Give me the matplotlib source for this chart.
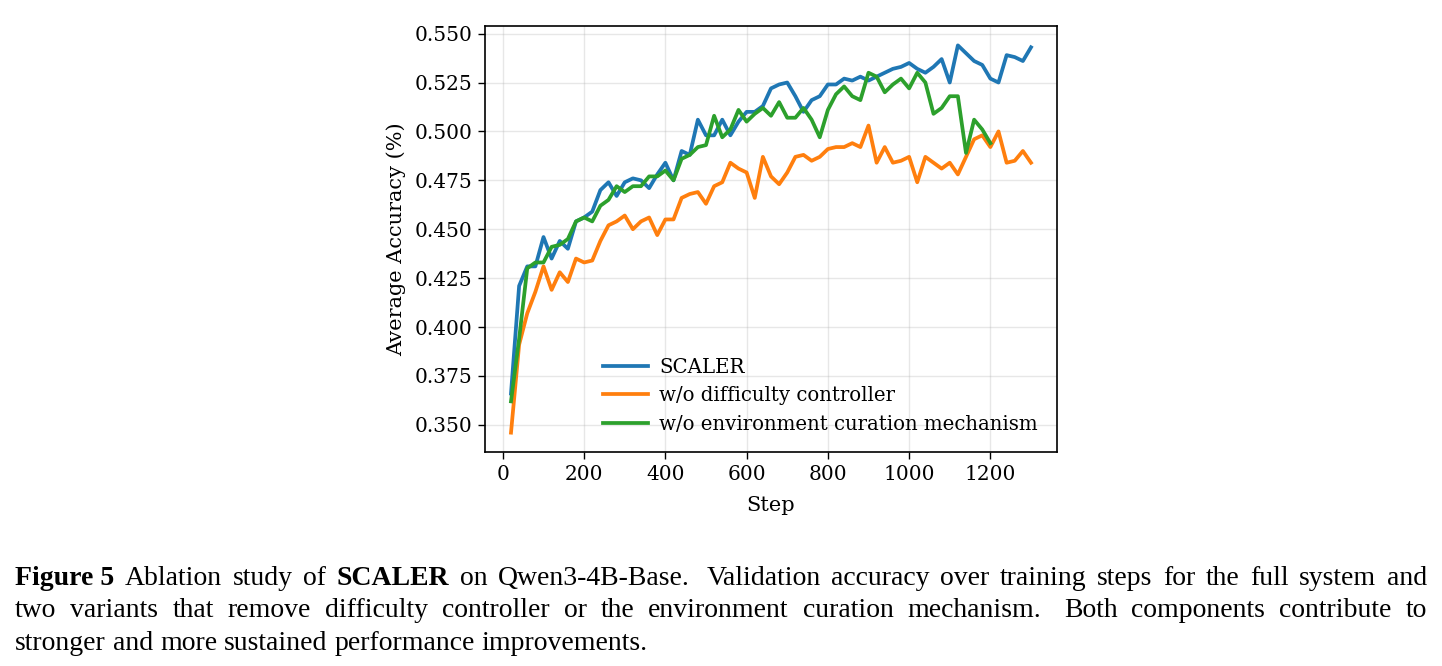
import matplotlib
matplotlib.use("Agg")
import matplotlib.pyplot as plt

# ---------------- data ----------------
steps = [20, 40, 60, 80, 100, 120, 140, 160, 180, 200,
         220, 240, 260, 280, 300, 320, 340, 360, 380, 400,
         420, 440, 460, 480, 500, 520, 540, 560, 580, 600,
         620, 640, 660, 680, 700, 720, 740, 760, 780, 800,
         820, 840, 860, 880, 900, 920, 940, 960, 980, 1000,
         1020, 1040, 1060, 1080, 1100, 1120, 1140, 1160, 1180, 1200,
         1220, 1240, 1260, 1280, 1300]

scaler = [0.366, 0.421, 0.431, 0.431, 0.446, 0.435, 0.444, 0.440, 0.454, 0.456,
          0.459, 0.470, 0.474, 0.467, 0.474, 0.476, 0.475, 0.471, 0.478, 0.484,
          0.475, 0.490, 0.488, 0.506, 0.498, 0.498, 0.506, 0.498, 0.505, 0.510,
          0.510, 0.513, 0.522, 0.524, 0.525, 0.518, 0.510, 0.516, 0.518, 0.524,
          0.524, 0.527, 0.526, 0.528, 0.526, 0.528, 0.530, 0.532, 0.533, 0.535,
          0.532, 0.530, 0.533, 0.537, 0.525, 0.544, 0.540, 0.536, 0.534, 0.527,
          0.525, 0.539, 0.538, 0.536, 0.543]

no_difficulty = [0.346, 0.391, 0.407, 0.418, 0.431, 0.419, 0.428, 0.423, 0.435, 0.433,
                 0.434, 0.444, 0.452, 0.454, 0.457, 0.450, 0.454, 0.456, 0.447, 0.455,
                 0.455, 0.466, 0.468, 0.469, 0.463, 0.472, 0.474, 0.484, 0.481, 0.479,
                 0.466, 0.487, 0.477, 0.473, 0.479, 0.487, 0.488, 0.485, 0.487, 0.491,
                 0.492, 0.492, 0.494, 0.492, 0.503, 0.484, 0.492, 0.484, 0.485, 0.487,
                 0.474, 0.487, 0.484, 0.481, 0.484, 0.478, 0.487, 0.496, 0.498, 0.492,
                 0.500, 0.484, 0.485, 0.490, 0.484]

steps_env = [20, 40, 60, 80, 100, 120, 140, 160, 180, 200,
             220, 240, 260, 280, 300, 320, 340, 360, 380, 400,
             420, 440, 460, 480, 500, 520, 540, 560, 580, 600,
             620, 640, 660, 680, 700, 720, 740, 760, 780, 800,
             820, 840, 860, 880, 900, 920, 940, 960, 980, 1000,
             1020, 1040, 1060, 1080, 1100, 1120, 1140, 1160, 1180, 1200]

no_env_curation = [0.362, 0.394, 0.430, 0.433, 0.433, 0.441, 0.442, 0.445, 0.454, 0.456,
                   0.454, 0.462, 0.465, 0.472, 0.469, 0.472, 0.472, 0.477, 0.477, 0.480,
                   0.475, 0.486, 0.488, 0.492, 0.493, 0.508, 0.497, 0.501, 0.511, 0.505,
                   0.509, 0.512, 0.508, 0.515, 0.507, 0.507, 0.512, 0.506, 0.497, 0.511,
                   0.519, 0.523, 0.518, 0.516, 0.530, 0.528, 0.520, 0.524, 0.527, 0.522,
                   0.530, 0.525, 0.509, 0.512, 0.518, 0.518, 0.489, 0.506, 0.501, 0.494]

series_labels = ["SCALER", "w/o difficulty controller", "w/o environment curation mechanism"]
colors = ["#1f77b4", "#ff7f0e", "#2ca02c"]

x_label = "Step"
y_label = "Average Accuracy (%)"

caption_lines = [
    [("Figure 5", "bold", 1.6), ("Ablation study of", "normal", 1.0), ("SCALER", "bold", 1.0),
     ("on Qwen3-4B-Base.", "normal", 1.0),
     ("Validation accuracy over training steps for the full system and", "normal", 1.6)],
    [("two variants that remove difficulty controller or the environment curation mechanism.", "normal", 1.0),
     ("Both components contribute to", "normal", 1.6)],
    [("stronger and more sustained performance improvements.", "normal", 1.0)],
]

# ---------------- figure ----------------
W, H = 1442, 666
DPI = 100
plt.rcParams["font.family"] = ["DejaVu Serif"]
fig = plt.figure(figsize=(W / DPI, H / DPI), dpi=DPI)

L, R, T, B = 485, 1057, 26, 452
ax = fig.add_axes([L / W, 1 - B / H, (R - L) / W, (B - T) / H])

ax.plot(steps, scaler, color=colors[0], lw=2.7, label=series_labels[0])
ax.plot(steps, no_difficulty, color=colors[1], lw=2.7, label=series_labels[1])
ax.plot(steps_env, no_env_curation, color=colors[2], lw=2.7, label=series_labels[2])

ax.set_xticks([0, 200, 400, 600, 800, 1000, 1200])
ax.set_yticks([0.350, 0.375, 0.400, 0.425, 0.450, 0.475, 0.500, 0.525, 0.550])
ax.set_yticklabels([f"{v:.3f}" for v in ax.get_yticks()])
ax.grid(True, color="#b0b0b0", alpha=0.3, lw=1.0)
ax.tick_params(labelsize=14.5, length=5, width=1.0, direction="out", pad=4)
for s in ax.spines.values():
    s.set_linewidth(1.2)
ax.set_xlabel(x_label, fontsize=15, labelpad=9)
ax.set_ylabel(y_label, fontsize=15, labelpad=6)

leg = ax.legend(loc="lower right", frameon=False, fontsize=14.2, handlelength=2.3,
                bbox_to_anchor=(0.997, 0.0), labelspacing=0.5, handletextpad=0.55)

# ---------------- caption (justified) ----------------
renderer = fig.canvas.get_renderer()
cap_font = "Liberation Serif"
cap_size = 20
x0, x1 = 15, 1427
baselines = [585, 617, 650]

def px(x, y):
    return x / W, 1 - y / H

for li, line in enumerate(caption_lines):
    words = []
    for seg, weight, gapmul in line:
        if weight == "bold":
            words.append((seg, weight, gapmul))
        else:
            parts = seg.split(" ")
            for k, p in enumerate(parts):
                words.append((p, weight, gapmul if k == 0 else 1.0))
    texts = []
    widths = []
    for w_, wt, g in words:
        t = fig.text(0, 0, w_, fontfamily=cap_font, fontsize=cap_size, fontweight=wt,
                     va="baseline", ha="left")
        texts.append(t)
        widths.append(t.get_window_extent(renderer).width)
    gaps = [words[i][2] for i in range(1, len(words))]
    total = sum(widths)
    last = li == len(caption_lines) - 1
    if last:
        sp = fig.text(0, 0, "a a", fontfamily=cap_font, fontsize=cap_size)
        sp2 = fig.text(0, 0, "aa", fontfamily=cap_font, fontsize=cap_size)
        unit = sp.get_window_extent(renderer).width - sp2.get_window_extent(renderer).width
        sp.remove(); sp2.remove()
    else:
        unit = (x1 - x0 - total) / sum(gaps)
    x = x0
    for i, t in enumerate(texts):
        if i > 0:
            x += gaps[i - 1] * unit
        t.set_position(px(x, baselines[li]))
        x += widths[i]

fig.savefig("out.png", dpi=DPI)
